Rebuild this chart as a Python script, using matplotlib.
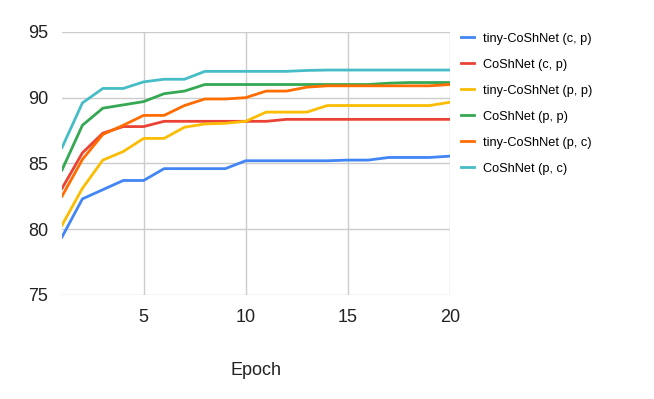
import matplotlib
matplotlib.use("Agg")
import matplotlib.pyplot as plt

plt.rcParams['font.family'] = ['Liberation Sans', 'DejaVu Sans']

epochs = list(range(1, 21))

tiny_cp = [79.4, 82.3, 83.0, 83.7, 83.7, 84.6, 84.6, 84.6, 84.6, 85.2,
           85.2, 85.2, 85.2, 85.2, 85.25, 85.25, 85.45, 85.45, 85.45, 85.55]
coshnet_cp = [83.1, 85.8, 87.3, 87.8, 87.8, 88.2, 88.2, 88.2, 88.2, 88.2,
              88.2, 88.35, 88.35, 88.35, 88.35, 88.35, 88.35, 88.35, 88.35, 88.35]
tiny_pp = [80.3, 83.1, 85.25, 85.9, 86.9, 86.9, 87.75, 88.0, 88.05, 88.2,
           88.9, 88.9, 88.9, 89.4, 89.4, 89.4, 89.4, 89.4, 89.4, 89.65]
coshnet_pp = [84.5, 87.9, 89.2, 89.45, 89.7, 90.3, 90.5, 91.0, 91.0, 91.0,
              91.0, 91.0, 91.0, 91.0, 91.0, 91.0, 91.1, 91.15, 91.15, 91.15]
tiny_pc = [82.5, 85.3, 87.2, 87.9, 88.65, 88.65, 89.4, 89.9, 89.9, 90.0,
           90.5, 90.5, 90.8, 90.9, 90.9, 90.9, 90.9, 90.9, 90.9, 91.0]
coshnet_pc = [86.2, 89.6, 90.7, 90.7, 91.2, 91.4, 91.4, 92.0, 92.0, 92.0,
              92.0, 92.0, 92.07, 92.1, 92.1, 92.1, 92.1, 92.1, 92.1, 92.1]

series = [
    ("tiny-CoShNet (c, p)", tiny_cp, "#4285F4"),
    ("CoShNet (c, p)", coshnet_cp, "#EA4335"),
    ("tiny-CoShNet (p, p)", tiny_pp, "#FBBC04"),
    ("CoShNet (p, p)", coshnet_pp, "#34A853"),
    ("tiny-CoShNet (p, c)", tiny_pc, "#FF6D01"),
    ("CoShNet (p, c)", coshnet_pc, "#46BDC6"),
]

fig = plt.figure(figsize=(6.54, 3.99), dpi=100)
ax = fig.add_axes([0.0948, 0.261, 0.593, 0.659])

for name, vals, col in series:
    ax.plot(epochs, vals, color=col, lw=2, label=name, zorder=3)

ax.set_xlim(1, 20)
ax.set_ylim(75, 95)
ax.set_xticks([5, 10, 15, 20])
ax.set_yticks([75, 80, 85, 90, 95])
ax.grid(True, color="#cccccc", lw=1)
for s in ax.spines.values():
    s.set_visible(False)
ax.tick_params(length=0, labelsize=13, pad=10, colors="#222222")
ax.set_xlabel("Epoch", fontsize=13, labelpad=26, color="#222222")

fig.legend(loc="upper left", bbox_to_anchor=(0.688, 0.947), frameon=False,
           fontsize=9.2, handlelength=1.0, handletextpad=0.7,
           labelspacing=1.1)

fig.savefig("out.png", dpi=100)
